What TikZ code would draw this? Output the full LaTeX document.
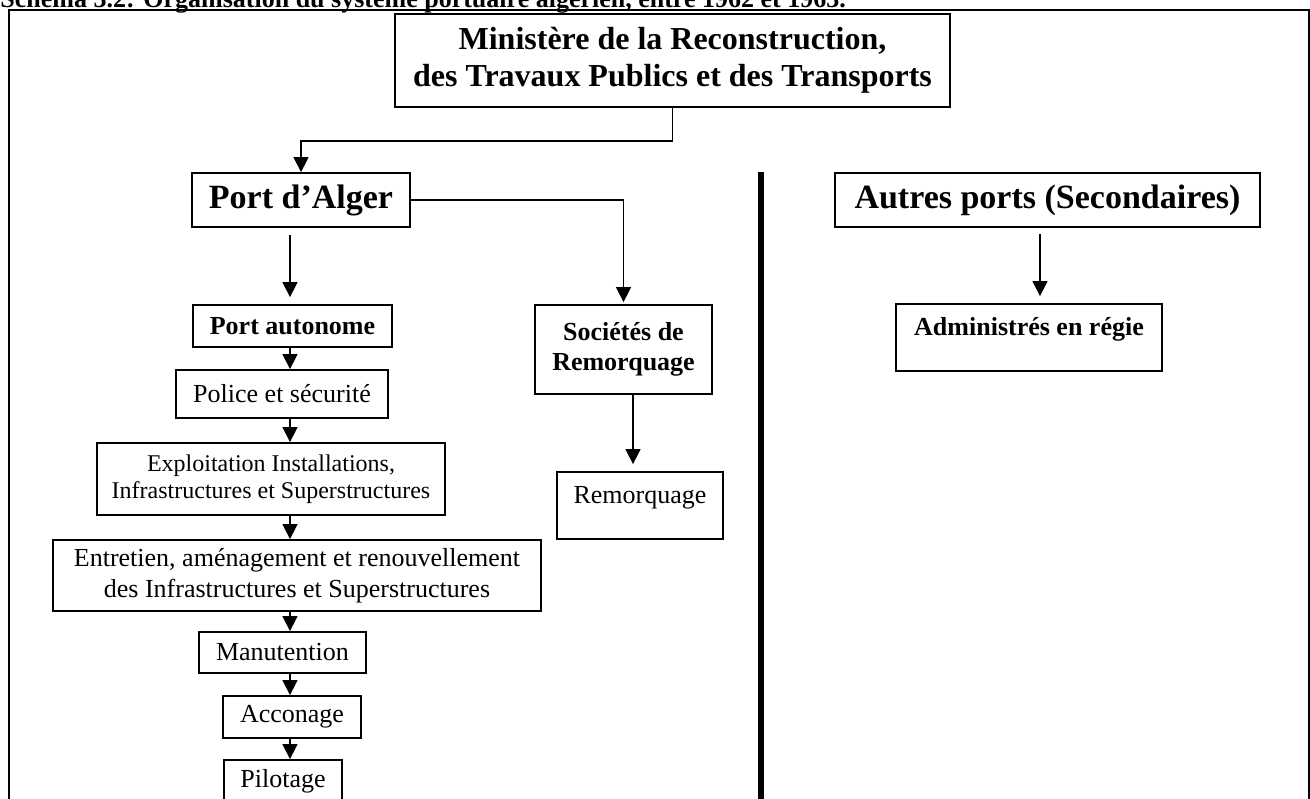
\documentclass[tikz,border=0pt]{standalone}
\usepackage{fontspec}
\setmainfont{Liberation Serif}
\usetikzlibrary{arrows.meta}

\begin{document}
\begin{tikzpicture}[x=0.5pt, y=-0.5pt,
  box/.style={draw=black, line width=0.9pt, inner sep=0pt, align=center},
  big/.style={font=\fontsize{17}{20}\selectfont\bfseries},
  bold/.style={font=\fontsize{13}{15}\selectfont\bfseries},
  plain/.style={font=\fontsize{13}{15.5}\selectfont},
  arr/.style={line width=0.7pt, -{Triangle[length=7.5pt,width=7.5pt]}}]
\useasboundingbox (0,0) rectangle (1310,798);

\node (title) at (0,7) [anchor=base west, inner sep=0pt, font=\fontsize{13}{15}\selectfont\bfseries] {Schéma 3.2: Organisation du système portuaire algérien, entre 1962 et 1963.};
\draw[line width=1pt] (9,830) -- (9,10) -- (1309,10) -- (1309,830);
\draw[line width=3.3pt] (761,172) -- (761,830);

\node (min) at (672.5,60.5) [box, minimum width=277.5pt, minimum height=46.5pt, font=\fontsize{16}{18.5}\selectfont\bfseries] {Ministère de la Reconstruction,\\des Travaux Publics et des Transports};
\node (alger) at (301,200) [box, big, minimum width=109pt, minimum height=27pt] {Port d’Alger};
\node (autres) at (1047.5,200) [box, big, minimum width=212.5pt, minimum height=27pt] {Autres ports (Secondaires)};
\node (admin) at (1029,337.5) [box, bold, minimum width=133pt, minimum height=33.5pt, text depth=11pt] {Administrés en régie};

\node (auto) at (292.5,326) [box, bold, minimum width=99.5pt, minimum height=21pt] {Port autonome};
\node (police) at (282,394) [box, plain, minimum width=106pt, minimum height=24pt] {Police et sécurité};
\node (exploit) at (271,479) [box, minimum width=174pt, minimum height=36pt, font=\fontsize{12}{13.5}\selectfont] {Exploitation Installations,\\Infrastructures et Superstructures};
\node (entretien) at (297,575.5) [box, plain, minimum width=244pt, minimum height=35.5pt] {Entretien, aménagement et renouvellement\\des Infrastructures et Superstructures};
\node (manut) at (282.5,652.5) [box, plain, minimum width=83.5pt, minimum height=20.5pt] {Manutention};
\node (accon) at (292,717) [box, plain, minimum width=69pt, minimum height=21pt] {Acconage};
\node (pilot) at (283,781) [box, plain, minimum width=59pt, minimum height=21pt] {Pilotage};

\node (soc) at (623.5,349.5) [box, bold, minimum width=88.5pt, minimum height=44.5pt] {Sociétés de\\Remorquage};
\node (remo) at (640,505.5) [box, plain, minimum width=83pt, minimum height=33.5pt, text depth=11pt] {Remorquage};

\coordinate (spine) at (290,0);
\coordinate (rcol) at (633,0);
\coordinate (acol) at (1040,0);

\draw[arr] (min.south) -- ++(0,33) -| (alger.north);
\draw[arr, shorten <=3.5pt, shorten >=3.5pt] (alger.south -| spine) -- (auto.north -| spine);
\foreach \a/\b in {auto/police, police/exploit, exploit/entretien, entretien/manut, manut/accon, accon/pilot}
  \draw[arr] (\a.south -| spine) -- (\b.north -| spine);
\draw[arr, shorten >=1pt] (alger.east) -| (soc.north);
\draw[arr, shorten >=3.5pt] (soc.south -| rcol) -- (remo.north -| rcol);
\draw[arr, shorten <=3pt, shorten >=3.5pt] (autres.south -| acol) -- (admin.north -| acol);
\end{tikzpicture}
\end{document}
